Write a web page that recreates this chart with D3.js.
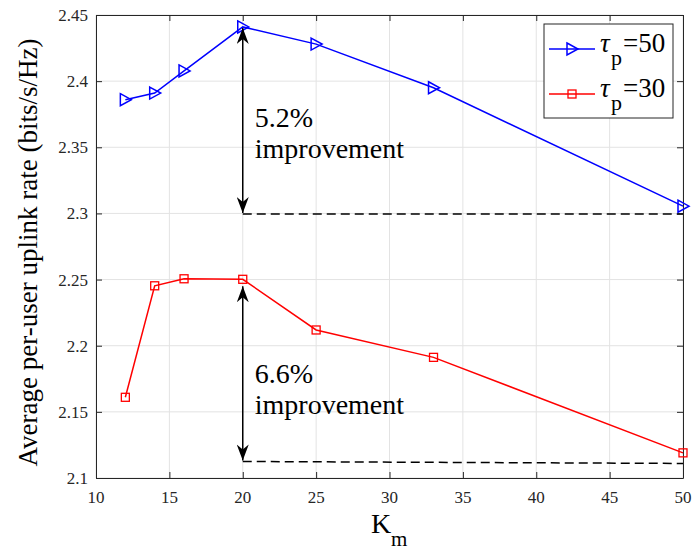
<!DOCTYPE html>
<html>
<head>
<meta charset="utf-8">
<script src="https://cdn.jsdelivr.net/npm/d3@7"></script>
</head>
<body style="margin:0">
<script>
// data
var kmValues = [12, 14, 16, 20, 25, 33, 50];
var rateTau50 = [2.386, 2.391, 2.4077, 2.441, 2.428, 2.395, 2.3055];
var rateTau30 = [2.161, 2.2453, 2.2506, 2.2502, 2.2119, 2.1912, 2.119];
var xTicks = [10, 15, 20, 25, 30, 35, 40, 45, 50];
var yTicks = [2.1, 2.15, 2.2, 2.25, 2.3, 2.35, 2.4, 2.45];
// annotation: arrow at K_m = 20 down to a dashed reference level
var baseTau50 = [2.2995, 2.2995];
var baseTau30 = [2.1125, 2.111];
var baseX = [20, 50];

var W = 694, H = 554;
var margin = { left: 96, right: 11, top: 15, bottom: 76 };
var iW = W - margin.left - margin.right;
var iH = H - margin.top - margin.bottom;
var tickCol = "#262626";

var svg = d3.select("body").append("svg").attr("width", W).attr("height", H);

// every text goes through here so the serif face is set right away
function addText(parent, size) {
  return parent.append("text").style("font-family", "Liberation Serif").attr("font-size", size);
}

// MATLAB style arrow head (notched back)
svg.append("defs").append("marker")
  .attr("id", "ah")
  .attr("viewBox", "0 0 16 12")
  .attr("refX", 16).attr("refY", 6)
  .attr("markerWidth", 16).attr("markerHeight", 12)
  .attr("markerUnits", "userSpaceOnUse")
  .attr("orient", "auto-start-reverse")
  .append("path")
  .attr("d", "M0,0 L16,6 L0,12 L5,6 Z")
  .attr("fill", "#000");

var g = svg.append("g").attr("transform", "translate(" + margin.left + "," + margin.top + ")");

var x = d3.scaleLinear().domain([10, 50]).range([0, iW]);
var y = d3.scaleLinear().domain([2.1, 2.45]).range([iH, 0]);

// grid
g.append("g").selectAll("line").data(xTicks).join("line")
  .attr("x1", function (d) { return x(d); }).attr("x2", function (d) { return x(d); })
  .attr("y1", 0).attr("y2", iH)
  .attr("stroke", "#e3e3e3");
g.append("g").selectAll("line").data(yTicks).join("line")
  .attr("y1", function (d) { return y(d); }).attr("y2", function (d) { return y(d); })
  .attr("x1", 0).attr("x2", iW)
  .attr("stroke", "#e3e3e3");

// axes: lines from d3.axis (ticks inward, box on), labels drawn as plain text
function styleAxis(sel) {
  sel.select(".domain").attr("stroke", tickCol);
  sel.selectAll(".tick line").attr("stroke", tickCol);
  sel.selectAll(".tick text").remove();
}
g.append("g").attr("transform", "translate(0," + iH + ")")
  .call(d3.axisBottom(x).tickValues(xTicks).tickSize(-6).tickSizeOuter(0)).call(styleAxis);
g.append("g")
  .call(d3.axisLeft(y).tickValues(yTicks).tickSize(-6).tickSizeOuter(0)).call(styleAxis);
g.append("g")
  .call(d3.axisTop(x).tickValues(xTicks).tickSize(-6).tickSizeOuter(0)).call(styleAxis);
g.append("g").attr("transform", "translate(" + iW + ",0)")
  .call(d3.axisRight(y).tickValues(yTicks).tickSize(-6).tickSizeOuter(0)).call(styleAxis);

var fmt = d3.format("~g");
xTicks.forEach(function (d) {
  addText(g, 17).attr("x", x(d)).attr("y", iH + 25).attr("text-anchor", "middle")
    .attr("fill", tickCol).text(fmt(d));
});
yTicks.forEach(function (d) {
  addText(g, 17).attr("x", -8).attr("y", y(d) + 6).attr("text-anchor", "end")
    .attr("fill", tickCol).text(fmt(d));
});

var line = d3.line()
  .x(function (d) { return x(d[0]); })
  .y(function (d) { return y(d[1]); });

var blue = "#0000ff", red = "#ff0000";
var pts50 = kmValues.map(function (k, i) { return [k, rateTau50[i]]; });
var pts30 = kmValues.map(function (k, i) { return [k, rateTau30[i]]; });

// dashed reference lines
var dash50 = baseX.map(function (k, i) { return [k, baseTau50[i]]; });
var dash30 = baseX.map(function (k, i) { return [k, baseTau30[i]]; });
[dash50, dash30].forEach(function (pts) {
  g.append("path").attr("d", line(pts)).attr("fill", "none")
    .attr("stroke", "#000").attr("stroke-width", 1.5).attr("stroke-dasharray", "9,5");
});

// series
g.append("path").attr("d", line(pts50)).attr("fill", "none").attr("stroke", blue).attr("stroke-width", 1.5);
g.append("path").attr("d", line(pts30)).attr("fill", "none").attr("stroke", red).attr("stroke-width", 1.5);

var tri = "M-5,-6 L6,0 L-5,6 Z";
g.selectAll(".m50").data(pts50).join("path").attr("class", "m50")
  .attr("transform", function (d) { return "translate(" + x(d[0]) + "," + y(d[1]) + ")"; })
  .attr("d", tri).attr("fill", "none").attr("stroke", blue).attr("stroke-width", 1.5);
g.selectAll(".m30").data(pts30).join("rect").attr("class", "m30")
  .attr("x", function (d) { return x(d[0]) - 4; })
  .attr("y", function (d) { return y(d[1]) - 4; })
  .attr("width", 8).attr("height", 8)
  .attr("fill", "none").attr("stroke", red).attr("stroke-width", 1.3);

// double arrows
var arrows = [
  { from: rateTau50[3], to: baseTau50[0], gap: 1 },
  { from: rateTau30[3], to: baseTau30[0], gap: 7 }
];
arrows.forEach(function (a) {
  g.append("line")
    .attr("x1", x(20)).attr("x2", x(20))
    .attr("y1", y(a.from) + a.gap).attr("y2", y(a.to) - 1)
    .attr("stroke", "#000").attr("stroke-width", 1.5)
    .attr("marker-start", "url(#ah)").attr("marker-end", "url(#ah)");
});

// annotations
var notes = [
  { pct: "5.2%", v: 2.3656 },
  { pct: "6.6%", v: 2.172 }
];
notes.forEach(function (n) {
  addText(g, 28).attr("x", x(20) + 12).attr("y", y(n.v)).text(n.pct);
  addText(g, 28).attr("x", x(20) + 12).attr("y", y(n.v) + 31.3).text("improvement");
});

// legend
var lg = svg.append("g").attr("transform", "translate(544,24)");
lg.append("rect").attr("width", 129).attr("height", 94)
  .attr("fill", "#fff").attr("stroke", tickCol);
var legendItems = [
  { color: blue, label: "50", mark: "tri" },
  { color: red, label: "30", mark: "sq" }
];
legendItems.forEach(function (it, i) {
  var cy = 25 + i * 45;
  var row = lg.append("g").attr("transform", "translate(0," + cy + ")");
  row.append("line").attr("x1", 5).attr("x2", 51).attr("stroke", it.color).attr("stroke-width", 1.5);
  if (it.mark === "tri") {
    row.append("path").attr("transform", "translate(28,0)").attr("d", tri)
      .attr("fill", "none").attr("stroke", it.color).attr("stroke-width", 1.5);
  } else {
    row.append("rect").attr("x", 24).attr("y", -4).attr("width", 8).attr("height", 8)
      .attr("fill", "none").attr("stroke", it.color).attr("stroke-width", 1.3);
  }
  addText(row, 27).attr("x", 56).attr("y", 3).attr("font-style", "italic").text("\u03c4");
  addText(row, 22).attr("x", 67).attr("y", 16).text("p");
  addText(row, 27).attr("x", 79).attr("y", 3).text("=" + it.label);
});

// axis labels
addText(svg, 27)
  .attr("transform", "translate(37," + (margin.top + iH / 2 + 6) + ") rotate(-90)")
  .attr("text-anchor", "middle")
  .text("Average per-user uplink rate (bits/s/Hz)");
addText(svg, 28).attr("x", 371).attr("y", 533).text("K");
addText(svg, 21).attr("x", 391).attr("y", 546).text("m");
</script>
</body>
</html>
